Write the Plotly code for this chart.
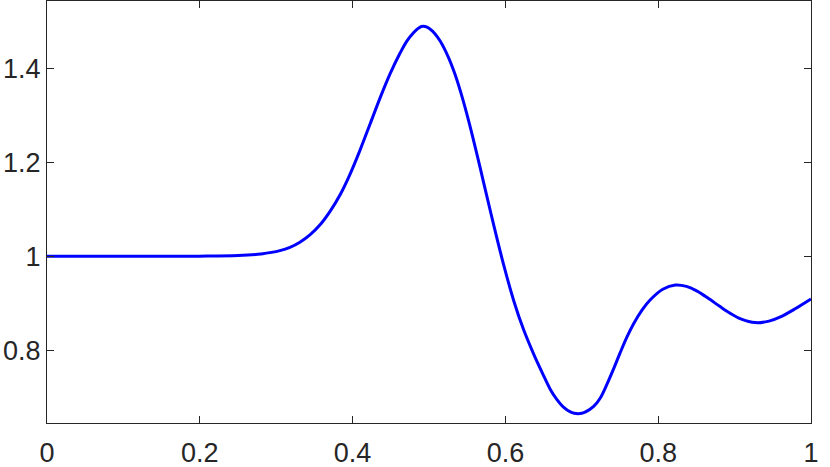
import plotly.graph_objects as go

# values
x_vals = [0.0, 0.1, 0.2, 0.25, 0.28, 0.305, 0.318, 0.331, 0.3445, 0.358,
          0.3707, 0.384, 0.397, 0.410, 0.423, 0.436, 0.449, 0.462, 0.471,
          0.480, 0.485, 0.490, 0.495, 0.500, 0.508, 0.515, 0.525, 0.533,
          0.541, 0.550, 0.558, 0.567, 0.576, 0.5845, 0.598, 0.611, 0.624,
          0.637, 0.648, 0.659, 0.667, 0.676, 0.685, 0.690, 0.695, 0.700,
          0.705, 0.7155, 0.724, 0.733, 0.742, 0.750, 0.759, 0.768, 0.779,
          0.790, 0.806, 0.8225, 0.837, 0.851, 0.866, 0.881, 0.895, 0.908,
          0.927, 0.945, 0.960, 0.980, 1.0]
y_vals = [1.000, 1.000, 1.0003, 1.0015, 1.005, 1.012, 1.019, 1.030, 1.046, 1.068,
          1.096, 1.132, 1.176, 1.227, 1.282, 1.337, 1.388, 1.432, 1.458,
          1.476, 1.484, 1.489, 1.489, 1.485, 1.473, 1.457, 1.425, 1.392,
          1.352, 1.300, 1.249, 1.188, 1.126, 1.068, 0.980, 0.905, 0.843,
          0.792, 0.753, 0.716, 0.696, 0.679, 0.6688, 0.666, 0.665, 0.6659,
          0.6688, 0.6805, 0.698, 0.728, 0.762, 0.794, 0.828, 0.857, 0.886,
          0.908, 0.930, 0.939, 0.936, 0.926, 0.910, 0.893, 0.878, 0.867,
          0.859, 0.862, 0.871, 0.889, 0.909]

x_ticks = [0, 0.2, 0.4, 0.6, 0.8, 1]
y_ticks = [0.8, 1.0, 1.2, 1.4]
y_tick_labels = ["0.8", "1", "1.2", "1.4"]

axis_color = "#262626"

fig = go.Figure()
fig.add_trace(
    go.Scatter(
        x=x_vals,
        y=y_vals,
        mode="lines",
        line={"color": "#0000ff", "width": 3, "shape": "spline", "smoothing": 0.9},
        showlegend=False,
    )
)

axis_common = dict(
    showgrid=False,
    zeroline=False,
    showline=True,
    linecolor=axis_color,
    linewidth=1,
    mirror="ticks",
    ticks="inside",
    ticklen=7,
    tickcolor=axis_color,
    automargin=False,
    tickfont={"family": "Liberation Sans, Arial, sans-serif", "size": 27, "color": axis_color},
)

fig.update_xaxes(
    range=[0, 1],
    tickvals=x_ticks,
    ticktext=[f"{t:g}" for t in x_ticks],
    ticklabelstandoff=6,
    **axis_common,
)
fig.update_yaxes(
    range=[0.6453, 1.5432],
    tickvals=y_ticks,
    ticktext=y_tick_labels,
    ticklabelstandoff=0,
    **axis_common,
)

fig.update_layout(
    width=830,
    height=467,
    template="plotly_white",
    plot_bgcolor="white",
    paper_bgcolor="white",
    margin={"l": 47, "r": 19, "t": 1, "b": 44},
)

# the page body has a default 8px margin; drop it so the figure sits at the corner
fig.write_html(
    "out.html",
    config={"displayModeBar": False},
    post_script="document.body.style.margin='0';",
)
